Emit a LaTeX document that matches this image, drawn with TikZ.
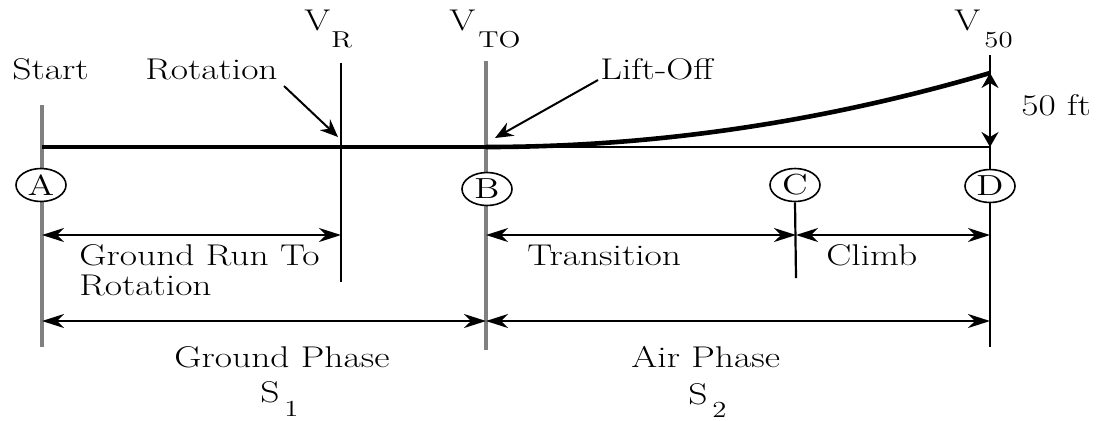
\documentclass[tikz,border=0pt]{standalone}
\usetikzlibrary{arrows.meta,shapes.geometric}
\newcommand{\wtxt}[1]{\scalebox{1.25}[1]{#1}}
\begin{document}
\begin{tikzpicture}[x=0.5pt,y=-0.5pt,
  lbl/.style={inner sep=0pt, anchor=base west, font=\rmfamily\fontsize{15}{17}\selectfont},
  sublbl/.style={inner sep=0pt, anchor=base west, font=\rmfamily\fontsize{11.5}{13}\selectfont},
  grayline/.style={draw=black!50, line width=2pt},
  blkline/.style={draw=black, line width=1.1pt},
  groundline/.style={draw=black, line width=2.3pt},
  thinline/.style={draw=black, line width=1pt},
  hdim/.style={draw=black, line width=1pt, {Stealth[length=11pt,width=7pt,inset=3.5pt]}-{Stealth[length=11pt,width=7pt,inset=3.5pt]}},
  vdim/.style={draw=black, line width=1pt, {Stealth[length=7.5pt,width=8.5pt,inset=2.5pt]}-{Stealth[length=7.5pt,width=8.5pt,inset=2.5pt]}},
  pointer/.style={draw=black, line width=1pt, -{Stealth[length=9pt,width=7.5pt,inset=3pt]}},
  station/.style={ellipse, draw=black, line width=0.8pt, fill=white, minimum width=25pt, minimum height=16.5pt, inner sep=0pt, font=\rmfamily\fontsize{14.5}{16}\selectfont}
]
\useasboundingbox (0,0) rectangle (1096,420);

% coordinates
\coordinate (startTop) at (42,105);  \coordinate (startBot) at (42,347);
\coordinate (vrTop) at (341,63);     \coordinate (vrBot) at (341,282);
\coordinate (toTop) at (486,61);     \coordinate (toBot) at (486,350);
\coordinate (dTop) at (990,55);      \coordinate (dBot) at (990,347);
\coordinate (cBot) at (796,278);
\coordinate (gStart) at (42,147);    \coordinate (gB) at (486,147);
\coordinate (dGround) at (990,147);  \coordinate (d50) at (990,73);
\coordinate (rotTip) at (338,137);   \coordinate (liftTip) at (495,138);
\coordinate (r1A) at (42,235);  \coordinate (r1R) at (341,235);
\coordinate (r1B) at (486,235); \coordinate (r1C) at (796,235); \coordinate (r1D) at (990,235);
\coordinate (r2A) at (42,321);  \coordinate (r2B) at (486,321); \coordinate (r2D) at (990,321);

% vertical station lines
\draw[grayline] (startTop) -- (startBot);
\draw[grayline] (toTop) -- (toBot);
\draw[blkline] (vrTop) -- (vrBot);
\draw[blkline] (dTop) -- (dBot);

% station markers
\node[station] (A) at (41,185) {\wtxt{A}};
\node[station] (B) at (487,189) {\wtxt{B}};
\node[station] (C) at (795,185) {\wtxt{C}};
\node[station] (D) at (990,186) {\wtxt{D}};
\draw[blkline] (C.south) -- (cBot);

% ground run and flight path
\draw[groundline] (gStart) -- (gB);
\draw[thinline] (gB) -- (dGround);
\draw[groundline] (gB) .. controls (654,147) and (822,122.3) .. (d50);
\draw[vdim] (d50) -- (dGround);

% labels top
\node[lbl] (start) at (12,79) {\wtxt{Start}};
\node[lbl] (rotation) at (145,79) {\wtxt{Rotation}};
\node[lbl] (liftoff) at (600,79) {\wtxt{Lift-Off}};
\node[lbl] (fifty) at (1021,115) {\wtxt{50 ft}};
\node[lbl] (vR) at (304,30) {\wtxt{V}};
\node[sublbl] (vRs) at (331,47) {\wtxt{R}};
\node[lbl] (vTO) at (449,30) {\wtxt{V}};
\node[sublbl] (vTOs) at (478,47) {\wtxt{TO}};
\node[lbl] (v50) at (954,30) {\wtxt{V}};
\node[sublbl] (v50s) at (984,47) {\wtxt{50}};

\coordinate (rotTail) at (284,86);
\coordinate (liftTail) at (598,80);
\draw[pointer] (rotTail) -- (rotTip);
\draw[pointer] (liftTail) -- (liftTip);

% dimension arrows
\draw[hdim] (r1A) -- (r1R);
\draw[hdim] (r1B) -- (r1C);
\draw[hdim] (r1C) -- (r1D);
\draw[hdim] (r2A) -- (r2B);
\draw[hdim] (r2B) -- (r2D);

% labels bottom
\node[lbl] (grr) at (79,265) {\wtxt{Ground Run To}};
\node[lbl] (grr2) at (79,295) {\wtxt{Rotation}};
\node[lbl] (trans) at (527,265) {\wtxt{Transition}};
\node[lbl] (climb) at (826,265) {\wtxt{Climb}};
\node[lbl] (gphase) at (174,367) {\wtxt{Ground Phase}};
\node[lbl] (aphase) at (631,367) {\wtxt{Air Phase}};
\node[lbl] (s1) at (260,402) {\wtxt{S}};
\node[sublbl] (s1s) at (284,416) {\wtxt{1}};
\node[lbl] (s2) at (688,404) {\wtxt{S}};
\node[sublbl] (s2s) at (712,417) {\wtxt{2}};
\end{tikzpicture}
\end{document}
